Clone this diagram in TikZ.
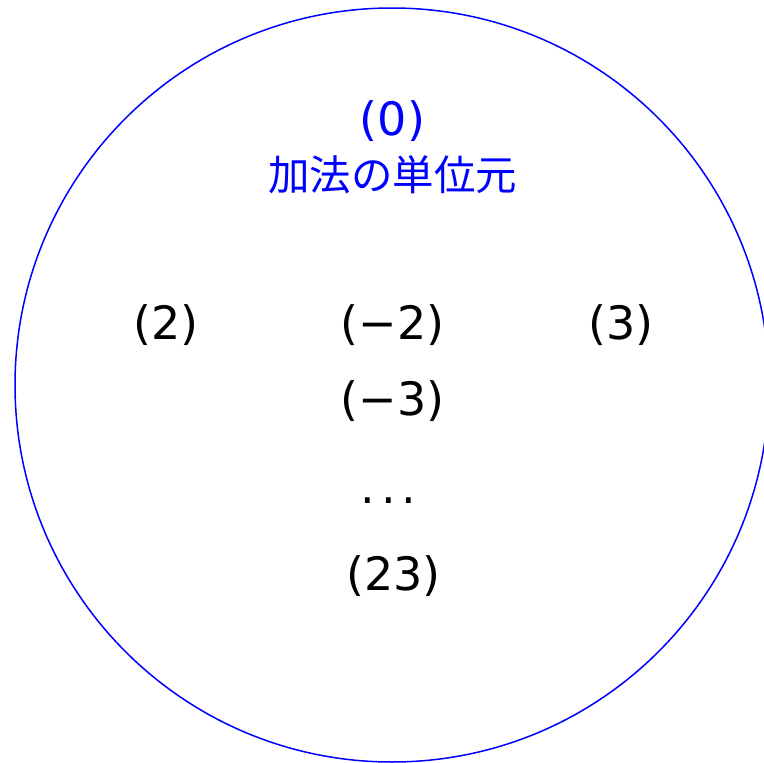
\documentclass[tikz,border=0pt]{standalone}
\usepackage{fontspec}
\setmainfont{DejaVu Sans}
\newfontfamily\jpfont{Noto Sans CJK JP}
\begin{document}
\begin{tikzpicture}[x=1pt,y=-1pt,
  lbl/.style={font=\fontsize{46}{52}\selectfont, inner sep=0pt, anchor=base},
  blbl/.style={lbl, text=blue}]
\useasboundingbox (0,0) rectangle (764,763);
\draw[blue, line width=1.5pt] (392,385) circle[radius=377];
\node[blbl] (zero) at (392.5,135) {(0)};
\node[blbl, font=\fontsize{41.5}{48}\selectfont\jpfont] (unit) at (392.5,190) {加法の単位元};
\node[lbl] (p2) at (166,339) {(2)};
\node[lbl] (m2) at (392.5,339) {(−2)};
\node[lbl] (p3) at (621,339) {(3)};
\node[lbl] (m3) at (392.5,415) {(−3)};
\node[lbl] (dots) at (388.5,503) {.\hspace{6.1pt}.\hspace{6.1pt}.};
\node[lbl] (p23) at (393.5,590) {(23)};
\end{tikzpicture}
\end{document}
